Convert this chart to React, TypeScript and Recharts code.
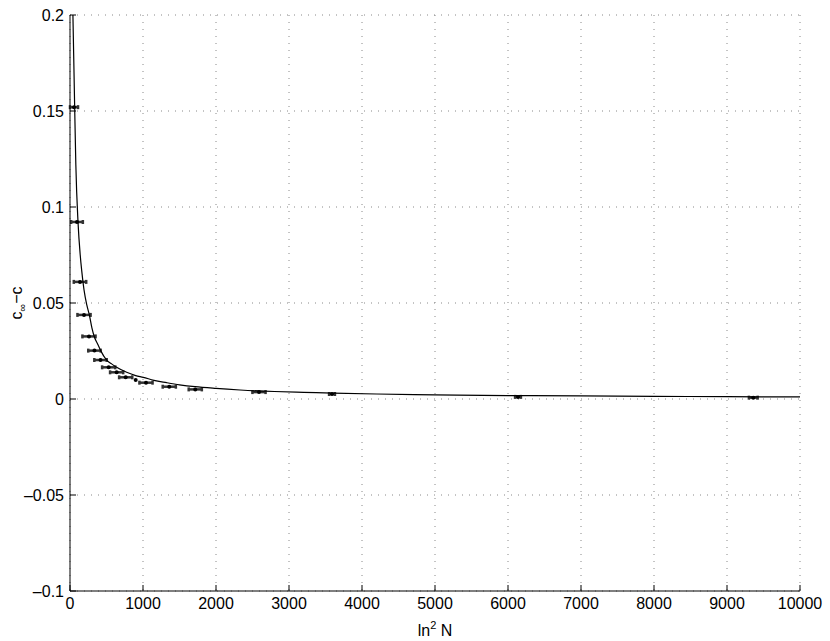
import { ComposedChart, Line, Scatter, ErrorBar, XAxis, YAxis, CartesianGrid } from 'recharts';

// measured points: ln^2 N, c_inf - c, horizontal error
const pointX = [55, 96, 137, 192, 260, 335, 418, 530, 639, 763, 900, 1041, 1360, 1716, 2589, 3589, 6137, 9360];
const pointY = [0.152, 0.0922, 0.061, 0.0438, 0.0326, 0.0252, 0.0203, 0.0165, 0.0139, 0.0113, 0.0099, 0.0085, 0.0064, 0.005, 0.0036, 0.0026, 0.0011, 0.0007];
const pointErr = [55, 80, 85, 90, 90, 85, 85, 90, 90, 90, 0, 90, 90, 90, 90, 40, 40, 60];

// fitted curve
const fitX = [40, 50, 64, 80, 110, 140, 160, 192, 230, 265, 300, 333, 380, 420, 502, 570, 639, 776, 900, 1004, 1150, 1324, 1500, 1712, 2000, 2329, 2800, 3200, 3600, 4200, 5000, 6000, 7000, 8000, 9000, 10000];
const fitY = [0.2, 0.18, 0.152, 0.122, 0.092, 0.075, 0.067, 0.0568, 0.049, 0.0438, 0.037, 0.0324, 0.0285, 0.0252, 0.0203, 0.0183, 0.0165, 0.0139, 0.0122, 0.0113, 0.0097, 0.0085, 0.0074, 0.0064, 0.0055, 0.0047, 0.0039, 0.0035, 0.0031, 0.0026, 0.0022, 0.0018, 0.0016, 0.0014, 0.0012, 0.0011];

const xTicks = [0, 1000, 2000, 3000, 4000, 5000, 6000, 7000, 8000, 9000, 10000];
const yTicks = [-0.1, -0.05, 0, 0.05, 0.1, 0.15, 0.2];

const points = pointX.map((x, i) => ({ x, y: pointY[i], err: pointErr[i] }));
const fit = fitX.map((x, i) => ({ x, y: fitY[i] }));

const FONT = '"Liberation Sans", Arial, sans-serif';
const tickStyle = { fill: '#000', fontSize: 16, fontFamily: FONT };
const fmtY = (v: number) => String(v).replace('-', '\u2013');

const Dot = (props: any) => <circle cx={props.cx} cy={props.cy} r={2} fill="#000" />;

export default function App() {
  return (
    <div style={{ position: 'absolute', left: 0, top: 0, background: '#fff' }}>
      <ComposedChart width={830} height={641} margin={{ top: 15, right: 30, left: 0, bottom: 0 }}>
        <CartesianGrid stroke="#888" strokeDasharray="1 6" />
        <XAxis
          type="number"
          dataKey="x"
          domain={[0, 10000]}
          ticks={xTicks}
          height={50}
          tickSize={-6}
          tickMargin={13}
          tick={tickStyle}
          stroke="#000"
          allowDataOverflow
        />
        <XAxis
          xAxisId="top"
          orientation="top"
          type="number"
          domain={[0, 10000]}
          ticks={xTicks}
          height={0}
          tickSize={-6}
          tick={false}
          stroke="#000"
        />
        <YAxis
          type="number"
          domain={[-0.1, 0.2]}
          ticks={yTicks}
          width={70}
          tickSize={-6}
          tickMargin={12}
          tick={tickStyle}
          tickFormatter={fmtY}
          stroke="#000"
          allowDataOverflow
        />
        <YAxis
          yAxisId="right"
          orientation="right"
          type="number"
          domain={[-0.1, 0.2]}
          ticks={yTicks}
          width={0}
          tickSize={-6}
          tick={false}
          stroke="#000"
        />
        <Scatter data={points} dataKey="y" fill="#000" shape={Dot} isAnimationActive={false}>
          <ErrorBar dataKey="err" direction="x" width={2} stroke="#333" strokeWidth={2.5} />
        </Scatter>
        <Line
          data={fit}
          dataKey="y"
          type="monotone"
          stroke="#000"
          strokeWidth={1.2}
          dot={false}
          isAnimationActive={false}
        />
        <text x={435} y={636} textAnchor="middle" fontSize={16} fontFamily={FONT} fill="#000">
          ln<tspan fontSize={11} dy={-7}>2</tspan>
          <tspan dy={7}> N</tspan>
        </text>
        <text
          x={22}
          y={303}
          textAnchor="middle"
          fontSize={16}
          fontFamily={FONT}
          fill="#000"
          transform="rotate(-90 22 303)"
        >
          c<tspan fontSize={11} dy={4}>∞</tspan>
          <tspan dy={-4}>−c</tspan>
        </text>
      </ComposedChart>
    </div>
  );
}
